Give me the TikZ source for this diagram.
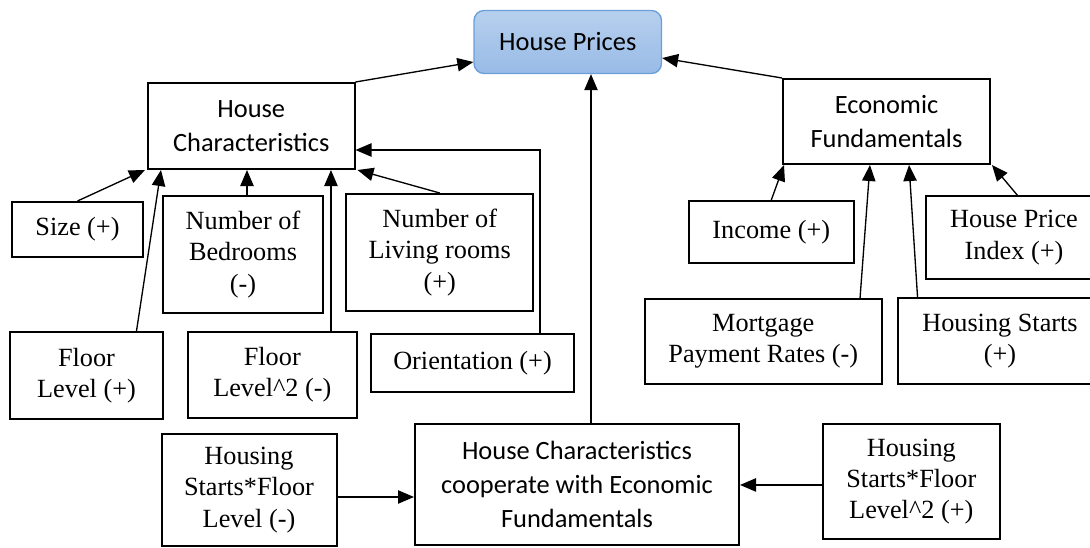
\documentclass[tikz,border=0pt]{standalone}
\usepackage{fontspec}
\setmainfont{Liberation Serif}
\newfontfamily\calib{Carlito}
\usetikzlibrary{arrows.meta,calc}
\definecolor{hpborder}{HTML}{6A9FD9}
\definecolor{hptop}{HTML}{B7D0EE}
\definecolor{hpbot}{HTML}{98BBE6}
\tikzset{
 bx/.style={draw, line width=1.5pt, inner sep=0pt, align=center, font=\fontsize{19.7}{23.5}\selectfont},
 tx/.style={bx, draw=none},
 sbx/.style={bx, font=\calib\fontsize{19.8}{25.5}\selectfont},
 arr/.style={line width=1pt, -{Triangle[length=12pt,width=10pt]}},
}
\begin{document}
\begin{tikzpicture}[x=0.75pt,y=-0.75pt]
\useasboundingbox (0,0) rectangle (1090,547);
\begin{scope}
\clip (0,0) rectangle (1090,547);
% top
\node[sbx, draw=hpborder, line width=1pt, rounded corners=7.5pt, top color=hptop, bottom color=hpbot,
  minimum width=140.6pt, minimum height=47.25pt] (HP) at (567.75,42) {House Prices};
\node[sbx, minimum width=154.9pt, minimum height=64.5pt] (HC) at (251.25,126) {House\\Characteristics};
\node[sbx, minimum width=155.25pt, minimum height=63.75pt] (EF) at (886.5,121.5) {Economic\\Fundamentals};
% house characteristics inputs
\node[bx, minimum width=98.25pt, minimum height=41.25pt] (Size) at (77.5,229.5) {Size (+)};
\node[bx, minimum width=120pt, minimum height=87.75pt] (Bed) at (243,254.5) {Number of\\Bedrooms\\(-)};
\node[bx, minimum width=140.6pt, minimum height=87.75pt] (Liv) at (439.75,252.5) {Number of\\Living rooms\\(+)};
\node[bx, minimum width=114.2pt, minimum height=65.25pt] (FL) at (86.5,375.5) {Floor\\Level (+)};
\node[bx, minimum width=127pt, minimum height=64.5pt] (FL2) at (272.3,375) {Floor\\Level\textasciicircum2 (-)};
\node[bx, minimum width=152.25pt, minimum height=43.5pt] (Or) at (472.5,363) {Orientation (+)};
% economic inputs
\node[bx, minimum width=123.5pt, minimum height=46.5pt] (Inc) at (771.3,232) {Income (+)};
\node[tx, minimum width=130.5pt, minimum height=60.75pt] (HPI) at (1014,237.5) {House Price\\Index (+)};
\draw[line width=1.5pt] (HPI.north west) rectangle ([xshift=30pt]HPI.south east);
\node[bx, minimum width=177.4pt, minimum height=63.75pt] (Mort) at (763.25,341.5) {Mortgage\\Payment Rates (-)};
\node[tx, minimum width=151.5pt, minimum height=63pt] (HS) at (1000,341) {Housing Starts\\(+)};
\draw[line width=1.5pt] (HS.north west) rectangle ([xshift=30pt]HS.south east);
% bottom
\node[bx, minimum width=131.25pt, minimum height=84pt] (HSFL) at (249,490) {Housing\\Starts*Floor\\Level (-)};
\node[sbx, minimum width=243pt, minimum height=90.75pt] (Coop) at (577,484.5) {House Characteristics\\cooperate with Economic\\Fundamentals};
\node[bx, minimum width=132.5pt, minimum height=86.25pt] (HSFL2) at (911.3,481.5) {Housing\\Starts*Floor\\Level\textasciicircum2 (+)};

% connectors to House Prices
\draw[arr] (HC.north east) -- ([yshift=-15pt]HP.west);
\draw[arr] (EF.north west) -- ([yshift=-12pt]HP.east);
\coordinate (cu) at ([xshift=10.5pt]Coop.north);
\draw[arr] (cu) -- (cu |- HP.south);
% to House Characteristics
\draw[arr] (Size.north) -- ([xshift=-1.5pt]HC.south west);
\draw[arr] ([xshift=37.5pt]FL.north) -- ([xshift=10.5pt]HC.south west);
\coordinate (bd) at ([xshift=3pt]Bed.north);
\draw[arr] (bd) -- (bd |- HC.south);
\coordinate (f2) at ([xshift=44pt]FL2.north);
\draw[arr] (f2) -- (f2 |- HC.south);
\draw[arr] (Liv.north) -- ([xshift=1.5pt]HC.south east);
\coordinate (o1) at ([xshift=50.6pt]Or.north);
\draw[arr] (o1) |- ([yshift=-18pt]HC.east);
% to Economic Fundamentals
\draw[arr] (Inc.north) -- ([xshift=1.5pt]EF.south west);
\draw[arr] ([xshift=72.6pt]Mort.north) -- ([xshift=-12.4pt]EF.south);
\draw[arr] ([xshift=-61.8pt]HS.north) -- ([xshift=16.9pt]EF.south);
\draw[arr] ([xshift=3pt]HPI.north) -- ([xshift=0.75pt]EF.south east);
% interactions
\coordinate (h1) at ([yshift=-5.25pt]HSFL.east);
\draw[arr] (h1) -- (h1 -| Coop.west);
\coordinate (h2) at ([yshift=-2.6pt]HSFL2.west);
\draw[arr] (h2) -- (h2 -| Coop.east);
\end{scope}
\end{tikzpicture}
\end{document}
